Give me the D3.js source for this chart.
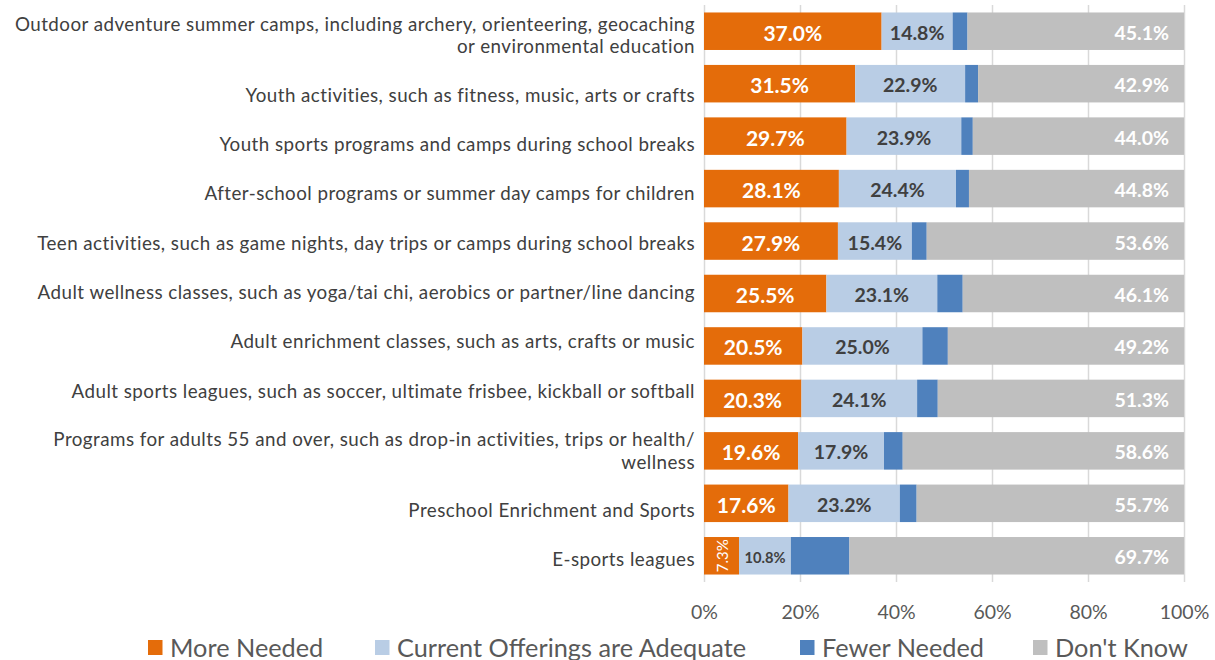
<!DOCTYPE html>
<html><head><meta charset="utf-8">
<script src="https://cdn.jsdelivr.net/npm/d3@7"></script>
<style>
html,body{margin:0;padding:0;background:#fff;}
svg{display:block;font-family:Lato,"Open Sans",sans-serif;}
</style></head>
<body>
<svg id="chart" width="1215" height="660"></svg>
<script>
const categories = [
  "Outdoor adventure summer camps, including archery, orienteering, geocaching\nor environmental education",
  "Youth activities, such as fitness, music, arts or crafts",
  "Youth sports programs and camps during school breaks",
  "After-school programs or summer day camps for children",
  "Teen activities, such as game nights, day trips or camps during school breaks",
  "Adult wellness classes, such as yoga/tai chi, aerobics or partner/line dancing",
  "Adult enrichment classes, such as arts, crafts or music",
  "Adult sports leagues, such as soccer, ultimate frisbee, kickball or softball",
  "Programs for adults 55 and over, such as drop-in activities, trips or health/\nwellness",
  "Preschool Enrichment and Sports",
  "E-sports leagues"
];
const seriesNames = ["More Needed", "Current Offerings are Adequate", "Fewer Needed", "Don't Know"];
const moreNeeded = [37.0, 31.5, 29.7, 28.1, 27.9, 25.5, 20.5, 20.3, 19.6, 17.6, 7.3];
const adequate   = [14.8, 22.9, 23.9, 24.4, 15.4, 23.1, 25.0, 24.1, 17.9, 23.2, 10.8];
const fewer      = [3.1, 2.7, 2.4, 2.7, 3.1, 5.3, 5.3, 4.3, 3.9, 3.5, 12.2];
const dontKnow   = [45.1, 42.9, 44.0, 44.8, 53.6, 46.1, 49.2, 51.3, 58.6, 55.7, 69.7];
const xTicks = [0, 20, 40, 60, 80, 100];
const colors = ["#E46C0A", "#B9CDE5", "#4F81BD", "#BFBFBF"];

const rows = categories.map((c, i) => ({
  cat: c, s0: moreNeeded[i], s1: adequate[i], s2: fewer[i], s3: dontKnow[i]
}));
const keys = ["s0", "s1", "s2", "s3"];

const svg = d3.select("#chart");
const x = d3.scaleLinear().domain([0, 100]).range([704, 1184]);
const y = d3.scaleBand().domain(categories).range([5, 582]).paddingInner(0.285).paddingOuter(0.1425);

// gridlines
svg.append("g").selectAll("line").data(xTicks).join("line")
  .attr("x1", d => x(d) + 0.5).attr("x2", d => x(d) + 0.5)
  .attr("y1", 5).attr("y2", 582)
  .attr("stroke", "#D9D9D9").attr("stroke-width", 1.5);

const stack = d3.stack().keys(keys)(rows);

const g = svg.append("g");
stack.forEach((layer, li) => {
  g.append("g").attr("fill", colors[li]).selectAll("rect").data(layer).join("rect")
    .attr("x", d => x(d[0]))
    .attr("width", d => x(d[1]) - x(d[0]))
    .attr("y", d => y(d.data.cat))
    .attr("height", y.bandwidth());
});

// labels
const fmt = v => v.toFixed(1) + "%";
stack.forEach((layer, li) => {
  if (li === 2) return;
  layer.forEach(d => {
    const v = d.data[keys[li]];
    const cy = y(d.data.cat) + y.bandwidth() / 2 + 1;
    const t = svg.append("text").text(fmt(v)).attr("dominant-baseline", "central")
      .attr("font-weight", "bold");
    if (li === 0) {
      t.attr("fill", "#fff");
      if (v < 10) {
        const cx = (x(d[0]) + x(d[1])) / 2;
        t.attr("font-weight", "normal").attr("font-size", 15).attr("text-anchor", "middle")
          .attr("transform", `translate(${cx},${cy - 1}) rotate(-90)`);
      } else {
        t.attr("font-size", 21).attr("text-anchor", "middle")
          .attr("x", (x(d[0]) + x(d[1])) / 2).attr("y", cy);
      }
    } else if (li === 1) {
      t.attr("fill", "#404040").attr("text-anchor", "middle")
        .attr("font-size", v < 12 ? 14.7 : 19.5)
        .attr("x", (x(d[0]) + x(d[1])) / 2).attr("y", cy);
    } else {
      t.attr("fill", "#fff").attr("text-anchor", "end").attr("font-size", 19.5)
        .attr("x", x(d[1]) - 15).attr("y", cy);
    }
  });
});

// category labels: laid out in slots sized by their number of lines
const slotLine = 21, slotPad = 28.5, lineH = 22.6;
const nLines = categories.map(c => c.split("\n").length);
const slots = nLines.map(n => slotPad + n * slotLine);
const total = d3.sum(slots);
const top0 = -1, bottom0 = 583;
const k = (bottom0 - top0) / total;
let acc = top0;
const labelCenters = slots.map(s => { const c = acc + s * k / 2; acc += s * k; return c; });

const catG = svg.append("g").attr("fill", "#404040").attr("font-size", 18.8)
  .attr("letter-spacing", 0.45).attr("text-anchor", "end");
categories.forEach((c, ci) => {
  const lines = c.split("\n");
  const cy = labelCenters[ci];
  const t = catG.append("text").attr("dominant-baseline", "central");
  lines.forEach((ln, i) => {
    t.append("tspan").attr("x", 695).attr("y", cy + (i - (lines.length - 1) / 2) * lineH).text(ln);
  });
});

// x axis
const xAxis = svg.append("g").attr("transform", "translate(0,582)")
  .call(d3.axisBottom(x).tickValues(xTicks).tickFormat(d => d + "%").tickSize(0));
xAxis.select(".domain").remove();
xAxis.selectAll("text").attr("font-size", 19.5).attr("fill", "#595959")
  .attr("font-family", "Lato, sans-serif").attr("dy", null)
  .attr("y", 29).attr("dominant-baseline", "central");

// legend
const legendX = [148, 375, 800, 1033];
const lg = svg.append("g");
seriesNames.forEach((n, i) => {
  lg.append("rect").attr("x", legendX[i]).attr("y", 640).attr("width", 14.5).attr("height", 15).attr("fill", colors[i]);
  lg.append("text").attr("x", legendX[i] + 22).attr("y", 646.5).attr("dominant-baseline", "central")
    .attr("font-size", 25.3).attr("fill", "#595959").text(n);
});
</script>
</body></html>
